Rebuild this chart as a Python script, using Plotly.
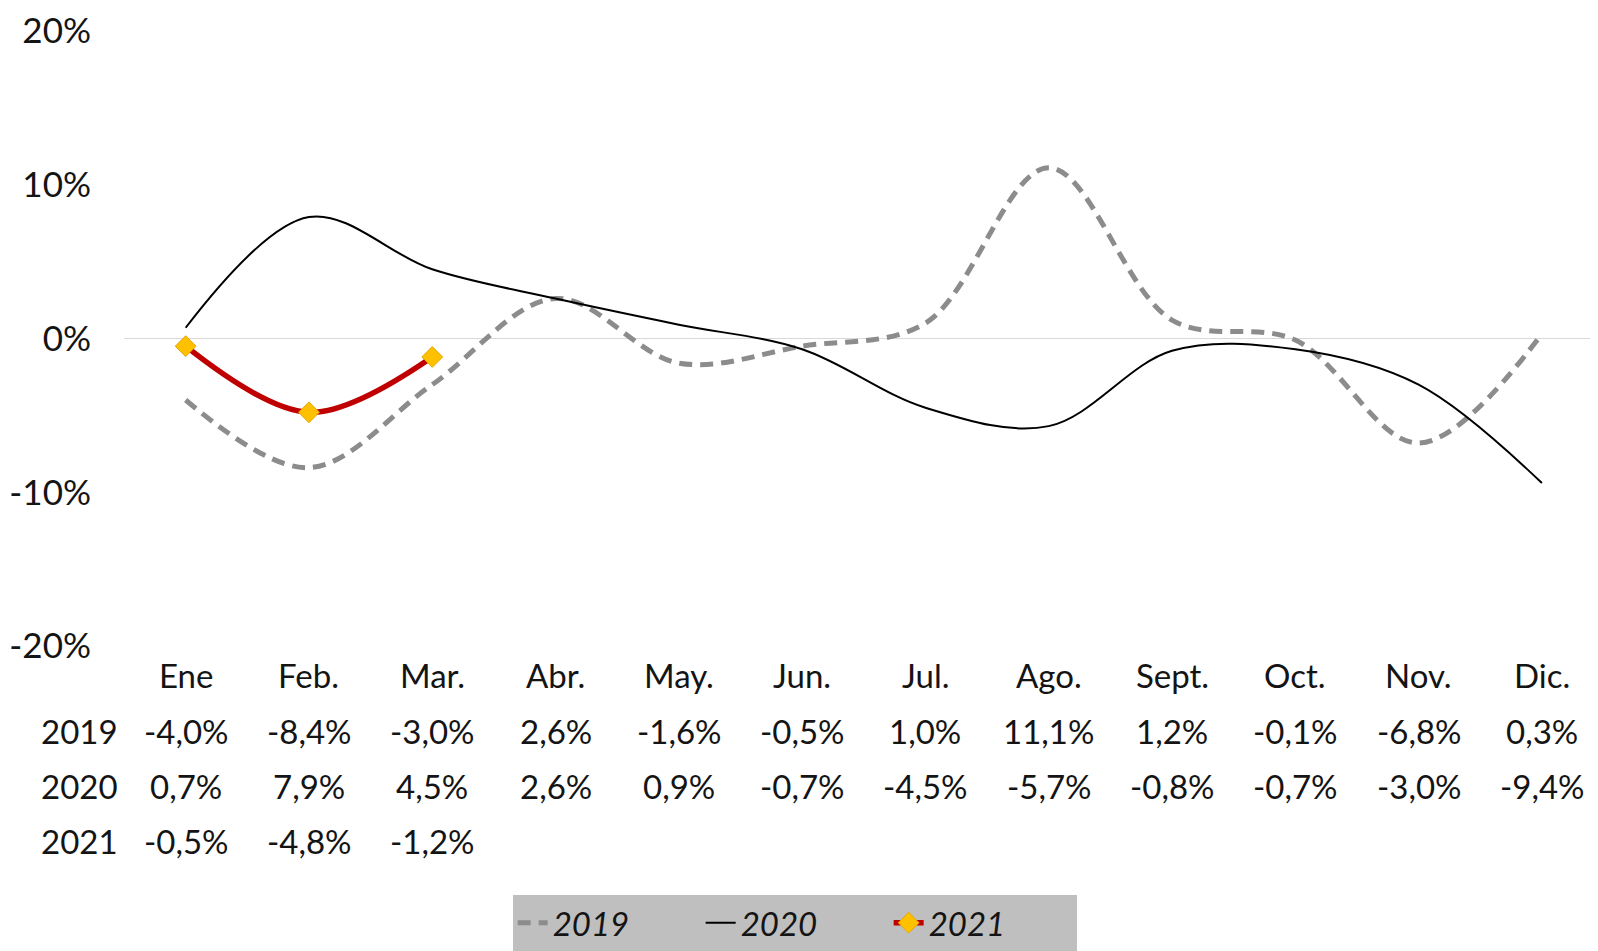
import plotly.graph_objects as go

months = ["Ene", "Feb.", "Mar.", "Abr.", "May.", "Jun.", "Jul.", "Ago.", "Sept.", "Oct.", "Nov.", "Dic."]
years = ["2019", "2020", "2021"]
v2019 = [-4.0, -8.4, -3.0, 2.6, -1.6, -0.5, 1.0, 11.1, 1.2, -0.1, -6.8, 0.3]
v2020 = [0.7, 7.9, 4.5, 2.6, 0.9, -0.7, -4.5, -5.7, -0.8, -0.7, -3.0, -9.4]
v2021 = [-0.5, -4.8, -1.2]
y_ticks = [-20, -10, 0, 10, 20]

FONT = "Lato"
TXT = "#141414"
fig = go.Figure()
fig.add_trace(go.Scatter(
    x=months, y=v2019, name="2019", mode="lines",
    line=dict(color="#8C8C8C", width=5, dash="13px,8px", shape="spline", smoothing=1.0),
))
fig.add_trace(go.Scatter(
    x=months, y=v2020, name="2020", mode="lines",
    line=dict(color="#000000", width=2, shape="spline", smoothing=1.0),
))
fig.add_trace(go.Scatter(
    x=months[:len(v2021)], y=v2021, name="2021", mode="lines+markers",
    line=dict(color="#C00000", width=5.5, shape="spline", smoothing=1.0),
    marker=dict(symbol="diamond", size=16, color="#FFC000", line=dict(color="#E0A800", width=1)),
))

# data table
ann = []
TS = 33
row_y = [-0.1375, -0.228, -0.317]
for i, m in enumerate(months):
    ann.append(dict(x=m, xref="x", y=-0.047, yref="paper", text=m, showarrow=False,
                    xanchor="center", yanchor="middle", font=dict(family=FONT, size=TS, color=TXT)))
series = [v2019, v2020, v2021]
for r, (yr, vals) in enumerate(zip(years, series)):
    ann.append(dict(x=-0.0025, xref="paper", y=row_y[r], yref="paper", text=yr, showarrow=False,
                    xanchor="right", yanchor="middle", font=dict(family=FONT, size=TS, color=TXT)))
    for i, v in enumerate(vals):
        txt = f"{v:.1f}%".replace(".", ",")
        ann.append(dict(x=months[i], xref="x", y=row_y[r], yref="paper", text=txt, showarrow=False,
                        xanchor="center", yanchor="middle", font=dict(family=FONT, size=TS, color=TXT)))

fig.update_layout(
    width=1590, height=943,
    margin=dict(l=116, r=0, t=21, b=304),
    paper_bgcolor="white", plot_bgcolor="white",
    showlegend=True,
    legend=dict(orientation="h", x=0.455, xanchor="center", y=-0.4045, yanchor="top",
                bgcolor="#BFBFBF", font=dict(family=FONT, size=33, color=TXT, style="italic"),
                itemwidth=30, entrywidth=143, entrywidthmode="pixels", borderwidth=0),
    annotations=ann,
    font=dict(family=FONT),
)
fig.update_xaxes(type="category", range=[-0.5, 11.455], showticklabels=False, showgrid=False,
                 zeroline=False, showline=False, ticks="")
fig.update_yaxes(range=[-20, 20], tickvals=y_ticks, ticktext=[f"{t}%" for t in y_ticks],
                 showgrid=False, zeroline=True, zerolinecolor="#D9D9D9", zerolinewidth=1,
                 showline=False, ticks="", ticklabelstandoff=32, ticklabeloverflow="allow",
                 tickfont=dict(family=FONT, size=35, color=TXT))

fig.write_html("out.html")
